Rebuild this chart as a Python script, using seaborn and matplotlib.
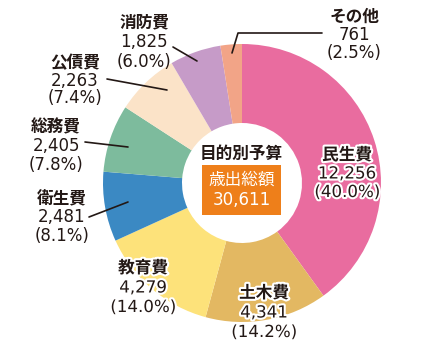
import numpy as np
import matplotlib
matplotlib.use("Agg")
import matplotlib.pyplot as plt
import matplotlib.patheffects as pe
from matplotlib.transforms import Affine2D
from matplotlib.patches import Rectangle
import seaborn as sns

# data (百万円)
categories = ['民生費', '土木費', '教育費', '衛生費', '総務費', '公債費', '消防費', 'その他']
values = [12256, 4341, 4279, 2481, 2405, 2263, 1825, 761]
pcts = ['40.0', '14.2', '14.0', '8.1', '7.8', '7.4', '6.0', '2.5']
total_label = '30,611'

colors = ['#E96C9F', '#E3B862', '#FDE27A', '#3B89C3', '#7DBB9D', '#FBE3C8', '#C69BC8', '#F2A487']

sns.set_theme(style='white')
plt.rcParams['font.family'] = ['DejaVu Sans', 'Noto Sans CJK JP']

W, H = 447, 355
fig = plt.figure(figsize=(W / 100, H / 100), dpi=100)
ax = fig.add_axes([0, 0, 1, 1])

# donut geometry in pixels
cx, cy, R, r_in = 242, 183, 139, 60
pal = sns.color_palette(colors)
ax.pie(values, colors=pal, startangle=90, counterclock=False, radius=1,
       wedgeprops={'width': 1 - r_in / R, 'linewidth': 0})
ax.set_xlim(-cx / R, (W - cx) / R)
ax.set_ylim(-(H - cy) / R, cy / R)
ax.set_aspect('auto')
ax.axis('off')

# pixel coordinates (top-left origin)
px = Affine2D().scale(1 / W, -1 / H).translate(0, 1) + fig.transFigure

txt_color = '#231815'
fs = 12

# label layout: center x, y of first line, step, inside?
layout = {
    '民生費': (347, 155, 18.5, True),
    '土木費': (264, 293, 19.5, True),
    '教育費': (143, 268, 19.5, True),
    '衛生費': (62, 199, 18.5, False),
    '総務費': (56, 127, 19.0, False),
    '公債費': (75, 63, 17.5, False),
    '消防費': (144, 22, 20.0, False),
    'その他': (354, 17, 18.0, False),
}

for cat, val, pct in zip(categories, values, pcts):
    x, y, step, inside = layout[cat]
    effects = [pe.withStroke(linewidth=3, foreground='white')] if inside else None
    lines = [cat, f'{val:,}', f'({pct}%)']
    for i, s in enumerate(lines):
        ax.text(x, y + i * step, s, transform=px, ha='center', va='center',
                fontsize=fs, color=txt_color,
                fontweight='bold' if i == 0 else 'normal',
                path_effects=effects)

leaders = {
    '衛生費': [(89, 217), (128, 202)],
    '総務費': [(85, 142), (128, 147)],
    '公債費': [(107, 79), (167, 90)],
    '消防費': [(173, 47), (197, 61)],
    'その他': [(322, 33), (238, 33), (232, 53)],
}
for pts in leaders.values():
    xs, ys = zip(*pts)
    ax.plot(xs, ys, transform=px, color=txt_color, lw=1.2, clip_on=False)

# center text
ax.text(241, 154, '目的別予算', transform=px, ha='center', va='center',
        fontsize=fs, fontweight='bold', color=txt_color)
ax.add_patch(Rectangle((202, 215), 79, -50, transform=px, facecolor='#EE7F1A',
                       edgecolor='none', clip_on=False))
ax.text(241.5, 180, '歳出総額', transform=px, ha='center', va='center',
        fontsize=fs, color='white')
ax.text(241.5, 200, total_label, transform=px, ha='center', va='center',
        fontsize=fs, color='white')

fig.savefig('out.png', dpi=100)
